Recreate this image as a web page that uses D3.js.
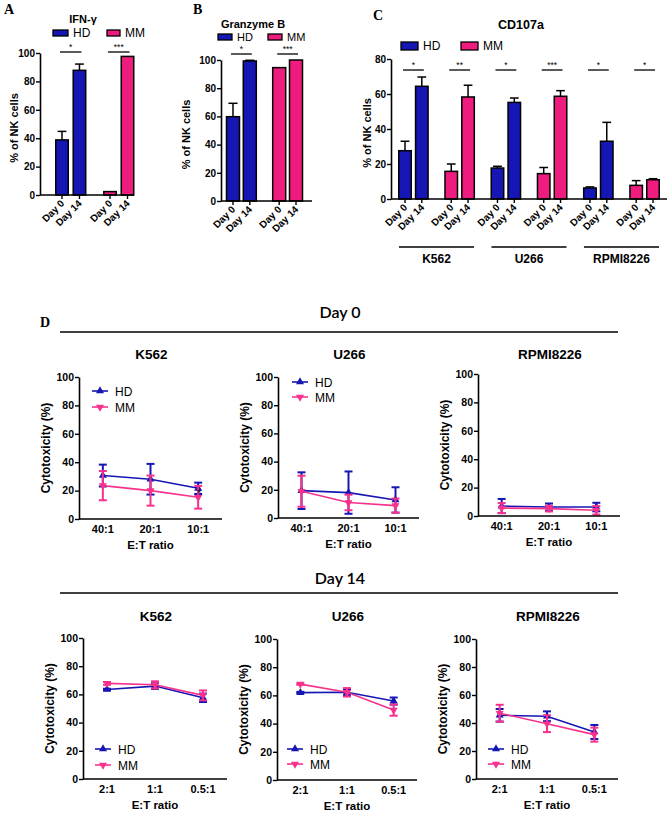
<!DOCTYPE html>
<html><head><meta charset="utf-8">
<script src="https://cdn.jsdelivr.net/npm/d3@7"></script>
<style>body{margin:0;background:#fff}svg{display:block}</style>
</head><body>
<script>
// ---------- data ----------
const dayLabels = ["Day 0", "Day 14"];
const groupLabels = ["HD", "MM"];
const ifnHD = [38.8, 87.8], ifnHDerr = [6, 4.4];
const ifnMM = [2.4, 97.6], ifnMMerr = [0, 0];
const ifnSig = ["*", "***"];
const grzHD = [59.8, 99.3], grzHDerr = [9.5, 0.5];
const grzMM = [94.6, 100], grzMMerr = [0, 0];
const grzSig = ["*", "***"];
const targetLines = ["K562", "U266", "RPMI8226"];
const cdHD = [[27.6, 64.4], [17.7, 55.2], [6.3, 33]];
const cdHDerr = [[5.4, 5.3], [1, 2.5], [0.6, 10.8]];
const cdMM = [[15.8, 58.3], [14.5, 58.7], [7.8, 11]];
const cdMMerr = [[4.2, 6.7], [3.5, 3.2], [2.7, 0.6]];
const cdSig = ["*", "**", "*", "***", "*", "*"];
const ratiosDay0 = ["40:1", "20:1", "10:1"];
const ratiosDay14 = ["2:1", "1:1", "0.5:1"];
const d0HD = [[30.6, 28, 21.6], [19.4, 18, 12.8], [7, 6.3, 6.3]];
const d0HDerr = [[7.7, 10.8, 4], [13, 15, 9], [5, 2.5, 3]];
const d0MM = [[23.5, 20, 15.3], [19, 11, 8.8], [5.6, 5.2, 4]];
const d0MMerr = [[10.3, 10.6, 8], [11, 5.5, 5], [3.5, 2, 3]];
const d14HD = [[63.5, 65.9, 57.6], [62, 62.2, 56], [45.5, 44.8, 33.6]];
const d14HDerr = [[0.5, 2, 3], [0.5, 2, 2.5], [4.5, 3.5, 5]];
const d14MM = [[67.8, 66.8, 59.3], [68, 62.2, 49.6], [47, 39.5, 31.7]];
const d14MMerr = [[1, 2.5, 3.5], [0.5, 3, 4], [6, 6, 5]];
const ticks100 = [0, 20, 40, 60, 80, 100];
const ticks80 = [0, 20, 40, 60, 80];

// ---------- style ----------
const BLUE = "#1616b4", PINK = "#ee1c7e", LPINK = "#f7318c";
const SANS = "'Liberation Sans', Arial, sans-serif";
const svg = d3.select("body").append("svg").attr("width", 670).attr("height", 816)
  .style("font-family", SANS);

function text(x, y, s, o = {}) {
  const t = svg.append("text").attr("x", x).attr("y", y).text(s)
    .attr("font-size", o.size || 11).attr("font-weight", o.weight || "bold")
    .attr("text-anchor", o.anchor || "middle").attr("fill", o.fill || "#000");
  if (o.family) t.attr("font-family", o.family);
  if (o.rotate) t.attr("transform", `rotate(${o.rotate},${x},${y})`);
  return t;
}
function yAxis(x, y, ticks, fs) {
  const g = svg.append("g").attr("transform", `translate(${x},0)`)
    .call(d3.axisLeft(y).tickValues(ticks).tickSize(4).tickPadding(1).tickSizeOuter(0));
  g.select(".domain").attr("stroke-width", 1.6);
  g.selectAll(".tick line").attr("stroke-width", 1.4);
  g.selectAll("text").attr("font-size", fs || 10).attr("font-weight", "bold")
    .attr("font-family", SANS).attr("fill", "#000");
  return g;
}
function hline(x1, x2, y, w) {
  svg.append("line").attr("x1", x1).attr("x2", x2).attr("y1", y).attr("y2", y)
    .attr("stroke", "#000").attr("stroke-width", w || 1.4);
}

// ---------- bar panels ----------
function barPanel(cfg) {
  const y = d3.scaleLinear().domain([0, cfg.yMax]).range([cfg.yBot, cfg.yTop]);
  const x = d3.scaleLinear().domain(cfg.slotDomain).range(cfg.slotRange);
  const bw = cfg.barW;
  const g = svg.append("g");
  cfg.bars.forEach(b => {
    const cx = x(b.slot);
    if (b.err > 0) {
      g.append("line").attr("x1", cx).attr("x2", cx).attr("y1", y(b.v)).attr("y2", y(b.v + b.err))
        .attr("stroke", "#000").attr("stroke-width", 1.5);
      g.append("line").attr("x1", cx - bw * 0.35).attr("x2", cx + bw * 0.35)
        .attr("y1", y(b.v + b.err)).attr("y2", y(b.v + b.err)).attr("stroke", "#000").attr("stroke-width", 1.5);
    }
    g.append("rect").attr("x", cx - bw / 2).attr("width", bw)
      .attr("y", y(b.v)).attr("height", y(0) - y(b.v))
      .attr("fill", b.color).attr("stroke", "#000").attr("stroke-width", 1.5);
    g.append("line").attr("x1", cx).attr("x2", cx).attr("y1", y(0)).attr("y2", y(0) + 4)
      .attr("stroke", "#000").attr("stroke-width", 1.4);
    const lx = cx + 3, ly = y(0) + 9;
    g.append("text").attr("x", lx).attr("y", ly).text(b.label)
      .attr("font-size", 10).attr("font-weight", "bold").attr("text-anchor", "end")
      .attr("transform", `rotate(-45,${lx},${ly})`);
  });
  yAxis(cfg.axisX, y, cfg.ticks);
  hline(cfg.axisX, cfg.axisRight, y(0), 1.6);
  cfg.sig.forEach(s => {
    const x1 = x(s.a) - 2, x2 = x(s.b) + 2;
    hline(x1, x2, cfg.sigY, 1.3);
    text((x1 + x2) / 2, cfg.sigY - 2, s.t, { size: 8.5, weight: "normal" });
  });
  text(cfg.ylabX, (cfg.yTop + cfg.yBot) / 2 + 4, "% of NK cells", { size: 11, rotate: -90 });
  text(cfg.titleX, cfg.titleY, cfg.title, { size: cfg.titleSize || 11 });
  cfg.legend.forEach((l, i) => {
    svg.append("rect").attr("x", l.x).attr("y", l.y - l.h / 2).attr("width", l.w).attr("height", l.h)
      .attr("fill", i === 0 ? BLUE : PINK).attr("stroke", "#000").attr("stroke-width", 1.3);
    text(l.x + l.w + 5, l.y + 4, groupLabels[i], { size: cfg.legendSize || 12, weight: "normal", anchor: "start" });
  });
}

// Panel A
text(4, 14, "A", { size: 14, anchor: "start", family: "'Liberation Serif', serif" });
barPanel({
  yMax: 100, yTop: 53, yBot: 195, ticks: ticks100, axisX: 40, axisRight: 134,
  slotDomain: [0, 3.75], slotRange: [62, 127.5], barW: 12.5,
  bars: [
    { slot: 0, v: ifnHD[0], err: ifnHDerr[0], color: BLUE, label: dayLabels[0] },
    { slot: 1, v: ifnHD[1], err: ifnHDerr[1], color: BLUE, label: dayLabels[1] },
    { slot: 2.75, v: ifnMM[0], err: ifnMMerr[0], color: PINK, label: dayLabels[0] },
    { slot: 3.75, v: ifnMM[1], err: ifnMMerr[1], color: PINK, label: dayLabels[1] }],
  sig: [{ a: 0, b: 1, t: ifnSig[0] }, { a: 2.75, b: 3.75, t: ifnSig[1] }], sigY: 52,
  ylabX: 18, title: "IFN-γ", titleX: 83, titleY: 23,
  legend: [{ x: 53, y: 33, w: 15, h: 6 }, { x: 107, y: 33, w: 13, h: 6 }]
});

// Panel B
text(193, 14, "B", { size: 14, anchor: "start", family: "'Liberation Serif', serif" });
barPanel({
  yMax: 100, yTop: 60, yBot: 201, ticks: ticks100, axisX: 221, axisRight: 312,
  slotDomain: [0, 3.75], slotRange: [233, 296], barW: 13,
  bars: [
    { slot: 0, v: grzHD[0], err: grzHDerr[0], color: BLUE, label: dayLabels[0] },
    { slot: 1, v: grzHD[1], err: grzHDerr[1], color: BLUE, label: dayLabels[1] },
    { slot: 2.75, v: grzMM[0], err: grzMMerr[0], color: PINK, label: dayLabels[0] },
    { slot: 3.75, v: grzMM[1], err: grzMMerr[1], color: PINK, label: dayLabels[1] }],
  sig: [{ a: 0, b: 1, t: grzSig[0] }, { a: 2.75, b: 3.75, t: grzSig[1] }], sigY: 54,
  ylabX: 190, title: "Granzyme B", titleX: 253, titleY: 28, legendSize: 11,
  legend: [{ x: 218, y: 37, w: 14, h: 6 }, { x: 268, y: 37, w: 14, h: 6 }]
});

// Panel C
text(373, 20, "C", { size: 14, anchor: "start", family: "'Liberation Serif', serif" });
{
  const bars = [], sig = [];
  targetLines.forEach((t, i) => {
    const base = i * 2 * 2.75;
    bars.push({ slot: base, v: cdHD[i][0], err: cdHDerr[i][0], color: BLUE, label: dayLabels[0] });
    bars.push({ slot: base + 1, v: cdHD[i][1], err: cdHDerr[i][1], color: BLUE, label: dayLabels[1] });
    bars.push({ slot: base + 2.75, v: cdMM[i][0], err: cdMMerr[i][0], color: PINK, label: dayLabels[0] });
    bars.push({ slot: base + 3.75, v: cdMM[i][1], err: cdMMerr[i][1], color: PINK, label: dayLabels[1] });
    sig.push({ a: base, b: base + 1, t: cdSig[i * 2] });
    sig.push({ a: base + 2.75, b: base + 3.75, t: cdSig[i * 2 + 1] });
  });
  barPanel({
    yMax: 80, yTop: 59, yBot: 199, ticks: ticks80, axisX: 391, axisRight: 667,
    slotDomain: [0, 14.75], slotRange: [405, 653], barW: 12.5,
    bars, sig, sigY: 70, ylabX: 371, title: "CD107a", titleX: 521, titleY: 29, titleSize: 12.5,
    legend: [{ x: 401, y: 46, w: 17, h: 8 }, { x: 461, y: 46, w: 17, h: 8 }]
  });
  const xg = d3.scaleLinear().domain([0, 14.75]).range([405, 653]);
  targetLines.forEach((t, i) => {
    const base = i * 2 * 2.75;
    const x1 = xg(base) - 6, x2 = xg(base + 3.75) + 6;
    hline(x1, x2, 247, 1.4);
    text((x1 + x2) / 2, 263, t, { size: 12 });
  });
}

// ---------- panel D ----------
const CAL = "Lato, 'Open Sans', sans-serif";
text(40, 327, "D", { size: 14, anchor: "start", family: "'Liberation Serif', serif" });
text(340, 318, dayLabels[0], { size: 16, weight: 600, family: CAL });
hline(60, 618, 332, 1.6);
text(340, 584, dayLabels[1], { size: 16, weight: 600, family: CAL });
hline(60, 618, 593, 1.6);

function tri(g, cx, cy, color, down) {
  g.append("path").attr("d", d3.symbol(d3.symbolTriangle, 28)())
    .attr("transform", `translate(${cx},${cy})${down ? " rotate(180)" : ""}`).attr("fill", color);
}
function linePanel(cfg) {
  const y = d3.scaleLinear().domain([0, 100]).range([cfg.yBot, cfg.yTop]);
  const x = d3.scalePoint().domain(cfg.cats).range([cfg.x0, cfg.x1]).padding(0.5);
  const g = svg.append("g");
  [[cfg.hd, cfg.hdErr, BLUE, false], [cfg.mm, cfg.mmErr, LPINK, true]].forEach(([vals, errs, col, down]) => {
    const line = d3.line().x((d, i) => x(cfg.cats[i])).y(d => y(d));
    g.append("path").attr("d", line(vals)).attr("fill", "none").attr("stroke", col).attr("stroke-width", 1.6);
    vals.forEach((v, i) => {
      const cx = x(cfg.cats[i]);
      const e = errs[i];
      g.append("line").attr("x1", cx).attr("x2", cx).attr("y1", y(v - e)).attr("y2", y(v + e))
        .attr("stroke", col).attr("stroke-width", 2);
      [v - e, v + e].forEach(w => g.append("line").attr("x1", cx - 4).attr("x2", cx + 4)
        .attr("y1", y(w)).attr("y2", y(w)).attr("stroke", col).attr("stroke-width", 2));
      tri(g, cx, y(v), col, down);
    });
  });
  yAxis(cfg.x0, y, ticks100, 10.5);
  hline(cfg.x0, cfg.x1, y(0), 1.6);
  cfg.cats.forEach(c => text(x(c), y(0) + 14, c, { size: 11 }));
  text((cfg.x0 + cfg.x1) / 2, y(0) + 30, "E:T ratio", { size: 11.5 });
  text(cfg.x0 - 29, (cfg.yTop + cfg.yBot) / 2, "Cytotoxicity (%)", { size: 12, rotate: -90 });
  text((cfg.x0 + cfg.x1) / 2 + 1, cfg.titleY, cfg.title, { size: 13.5 });
  if (cfg.legend) {
    [[BLUE, false, groupLabels[0]], [LPINK, true, groupLabels[1]]].forEach(([col, down, lab], i) => {
      const ly = cfg.legend.y + i * cfg.legend.dy;
      svg.append("line").attr("x1", cfg.legend.x).attr("x2", cfg.legend.x + 16).attr("y1", ly).attr("y2", ly)
        .attr("stroke", col).attr("stroke-width", 1.6);
      tri(svg, cfg.legend.x + 8, ly, col, down);
      text(cfg.legend.x + 23, ly + 4.5, lab, { size: 12, weight: "normal", anchor: "start" });
    });
  }
  if (cfg.star) text(x(cfg.cats[cfg.star.i]) + 1, y(cfg.star.v) + 6, "*", { size: 10, weight: "normal" });
}

const day0Frames = [
  { x0: 79, x1: 222, yTop: 377, yBot: 519, legend: { x: 92, y: 391, dy: 16 }, star: { i: 2, v: 20 } },
  { x0: 278, x1: 419, yTop: 377, yBot: 518, legend: { x: 292, y: 382, dy: 15 } },
  { x0: 478, x1: 620, yTop: 374, yBot: 516 }];
const day14Frames = [
  { x0: 83, x1: 227, yTop: 638, yBot: 779, legend: { x: 95, y: 749, dy: 16 } },
  { x0: 277, x1: 417, yTop: 639, yBot: 780, legend: { x: 287, y: 749, dy: 15 } },
  { x0: 476, x1: 618, yTop: 639, yBot: 779, legend: { x: 488, y: 749, dy: 15 } }];

targetLines.forEach((t, i) => {
  linePanel(Object.assign({ cats: ratiosDay0, hd: d0HD[i], hdErr: d0HDerr[i], mm: d0MM[i], mmErr: d0MMerr[i],
    title: t, titleY: 359 }, day0Frames[i]));
  linePanel(Object.assign({ cats: ratiosDay14, hd: d14HD[i], hdErr: d14HDerr[i], mm: d14MM[i], mmErr: d14MMerr[i],
    title: t, titleY: 621 }, day14Frames[i]));
});
</script>
</body></html>
